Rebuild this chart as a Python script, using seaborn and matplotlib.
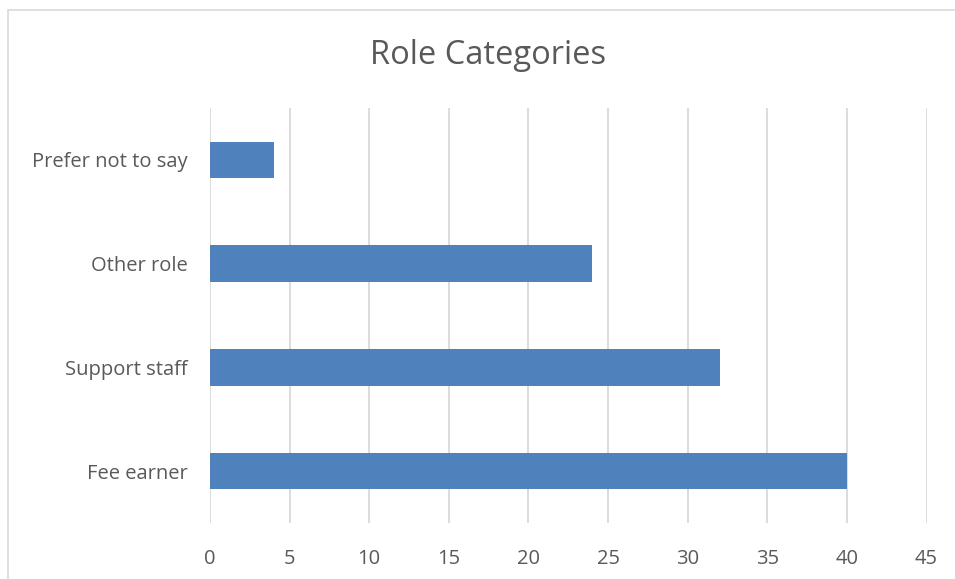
import matplotlib
matplotlib.use("Agg")
import matplotlib.pyplot as plt
import seaborn as sns
import pandas as pd
from matplotlib.patches import Rectangle

categories = ["Prefer not to say", "Other role", "Support staff", "Fee earner"]
values = [4, 24, 32, 40]
xticks = [0, 5, 10, 15, 20, 25, 30, 35, 40, 45]
title = "Role Categories"

sns.set_theme(style="white")
plt.rcParams['font.family'] = ['Open Sans', 'DejaVu Sans']

W, H = 955, 579
fig = plt.figure(figsize=(W / 100, H / 100), dpi=100)
ax = fig.add_axes([210 / W, 1 - 523 / H, (926.5 - 210) / W, (523 - 108) / H])

df = pd.DataFrame({"role": categories, "count": values})
sns.barplot(data=df, x="count", y="role", order=categories, orient="h",
            color="#4f81bd", saturation=1, width=0.35, ax=ax, zorder=3,
            linewidth=0)

ax.set_xlim(0, 45)
ax.set_ylim(3.5, -0.5)
ax.set_xticks(xticks)
ax.set_xticklabels([str(t) for t in xticks])
ax.xaxis.grid(True, color="#d9d9d9", linewidth=1.3, zorder=0)
ax.yaxis.grid(False)
for s in ax.spines.values():
    s.set_visible(False)
ax.tick_params(axis="both", length=0, labelsize=14.5, colors="#595959")
ax.tick_params(axis="x", pad=19)
ax.tick_params(axis="y", pad=16)
ax.set_xlabel("")
ax.set_ylabel("")

fig.text(488 / W, 1 - 55 / H, title, ha="center", va="center",
         fontsize=23.5, color="#595959")

fig.patches.append(Rectangle((8 / W, -0.01), 1.0, 1 - 10 / H + 0.01,
                             transform=fig.transFigure, fill=False,
                             edgecolor="#d9d9d9", linewidth=1.2))

fig.savefig("out.png", dpi=100, facecolor="white")
